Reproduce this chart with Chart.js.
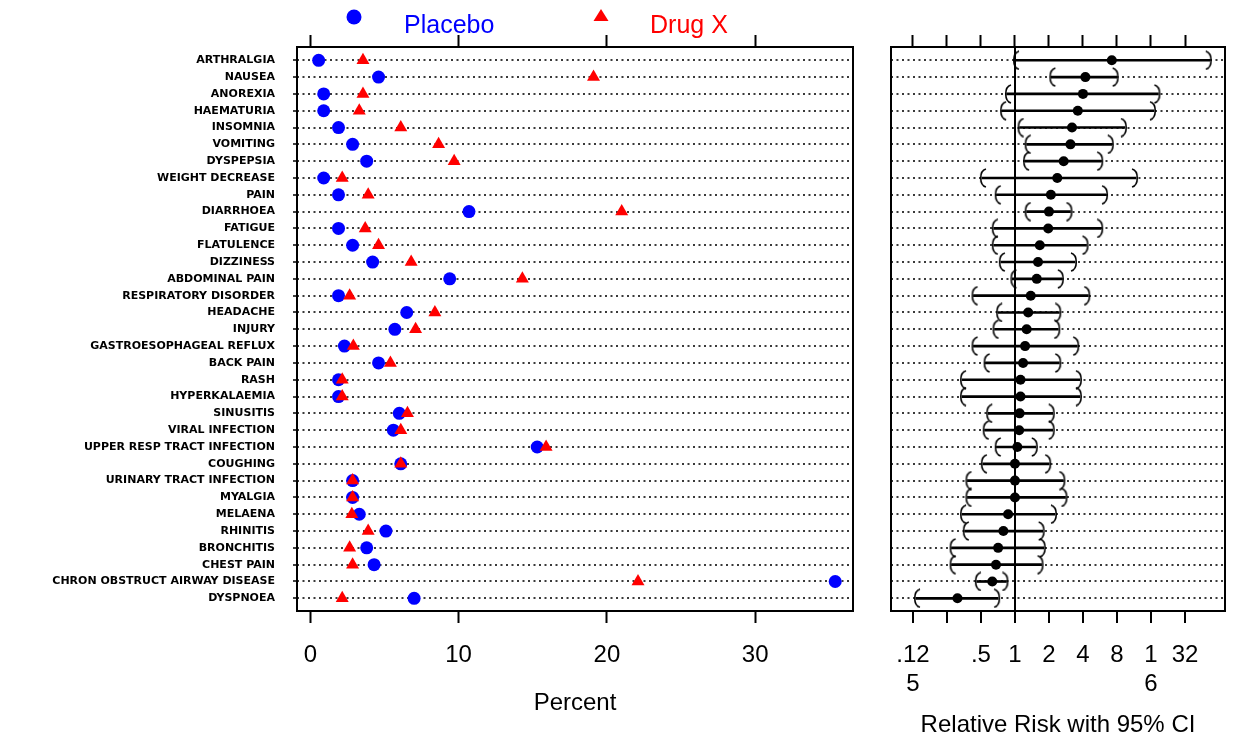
<!DOCTYPE html>
<html>
<head>
<meta charset="utf-8">
<script src="https://cdn.jsdelivr.net/npm/chart.js@4.4.1/dist/chart.umd.min.js"></script>
<style>
body{margin:0;background:#fff;}
#left{position:absolute;left:0;top:0;}
#right{position:absolute;left:870px;top:0;}
</style>
</head>
<body>
<canvas id="left" width="870" height="742"></canvas>
<canvas id="right" width="365" height="742"></canvas>
<script>
// adverse events, top to bottom
const events = ['ARTHRALGIA','NAUSEA','ANOREXIA','HAEMATURIA','INSOMNIA','VOMITING','DYSPEPSIA','WEIGHT DECREASE','PAIN','DIARRHOEA','FATIGUE','FLATULENCE','DIZZINESS','ABDOMINAL PAIN','RESPIRATORY DISORDER','HEADACHE','INJURY','GASTROESOPHAGEAL REFLUX','BACK PAIN','RASH','HYPERKALAEMIA','SINUSITIS','VIRAL INFECTION','UPPER RESP TRACT INFECTION','COUGHING','URINARY TRACT INFECTION','MYALGIA','MELAENA','RHINITIS','BRONCHITIS','CHEST PAIN','CHRON OBSTRUCT AIRWAY DISEASE','DYSPNOEA'];

// percent of patients
const placebo = [0.56,4.6,0.9,0.9,1.9,2.85,3.8,0.9,1.9,10.7,1.9,2.85,4.2,9.4,1.9,6.5,5.7,2.3,4.6,1.9,1.9,6.0,5.6,15.3,6.1,2.85,2.85,3.3,5.1,3.8,4.3,35.4,7.0];
const drugX = [3.55,19.1,3.55,3.3,6.1,8.65,9.7,2.15,3.9,21.0,3.7,4.6,6.8,14.3,2.65,8.4,7.1,2.9,5.4,2.15,2.15,6.55,6.1,15.9,6.1,2.85,2.85,2.8,3.9,2.65,2.85,22.1,2.15];

// relative risk with 95% CI
const rr = [7.2,4.2,4.0,3.6,3.2,3.1,2.7,2.37,2.08,2.0,1.97,1.66,1.6,1.56,1.38,1.31,1.27,1.23,1.18,1.12,1.12,1.1,1.09,1.05,1.0,1.0,1.0,0.87,0.79,0.71,0.68,0.63,0.31];
const rrLow = [1.0,2.1,0.85,0.77,1.1,1.27,1.23,0.51,0.69,1.27,0.65,0.65,0.75,0.95,0.43,0.71,0.66,0.43,0.55,0.34,0.34,0.58,0.54,0.69,0.52,0.38,0.38,0.34,0.36,0.275,0.275,0.46,0.133];
const rrHigh = [53,7.95,18.6,17,9.4,7.2,5.8,11.8,6.4,3.1,5.8,4.3,3.4,2.6,4.46,2.47,2.42,3.56,2.47,3.76,3.76,2.16,2.16,1.53,2.01,2.68,2.8,2.26,1.76,1.8,1.72,0.84,0.71];

const seriesNames = ['Placebo','Drug X'];
const seriesColors = ['#0000ff','#ff0000'];
const pctTicks = [0,10,20,30];
const rrTicks = [0.125,0.25,0.5,1,2,4,8,16,32];
const rrTickLabels = [['.12','5'],'','.5','1','2','4','8',['1','6'],'32'];

Chart.defaults.font.family = '"Liberation Sans", Arial, sans-serif';
Chart.defaults.color = '#000';

const rowTicks = (s) => { s.ticks = events.map((e, i) => ({value: i})); };

const framePlugin = {
  id: 'frame',
  afterDatasetsDraw(chart) {
    const {ctx, chartArea: a} = chart;
    ctx.save();
    ctx.strokeStyle = '#000';
    ctx.lineWidth = 2;
    ctx.strokeRect(a.left, a.top, a.right - a.left, a.bottom - a.top);
    ctx.restore();
  }
};

const legendPlugin = {
  id: 'topLegend',
  afterDraw(chart) {
    const {ctx, chartArea: a} = chart;
    ctx.save();
    ctx.font = '25px "Liberation Sans", Arial, sans-serif';
    ctx.textBaseline = 'middle';
    // placebo
    ctx.fillStyle = seriesColors[0];
    ctx.beginPath();
    ctx.arc(a.left + 57, 17, 7.5, 0, Math.PI * 2);
    ctx.fill();
    ctx.fillText(seriesNames[0], a.left + 107, 26);
    // drug x
    ctx.fillStyle = seriesColors[1];
    const tx = a.left + 304;
    ctx.beginPath();
    ctx.moveTo(tx, 9);
    ctx.lineTo(tx + 7.5, 21);
    ctx.lineTo(tx - 7.5, 21);
    ctx.closePath();
    ctx.fill();
    ctx.fillText(seriesNames[1], a.left + 353, 26);
    ctx.restore();
  }
};

const dotted = {display: false, dash: [2, 3.5]};
const dotColor = '#3a3a3a';

// left panel: percent dot plot
new Chart(document.getElementById('left'), {
  type: 'scatter',
  data: {
    datasets: [
      {
        label: seriesNames[0],
        data: placebo.map((v, i) => ({x: v, y: i})),
        pointStyle: 'circle',
        pointRadius: 6.5,
        backgroundColor: seriesColors[0],
        borderWidth: 0,
        order: 1
      },
      {
        label: seriesNames[1],
        data: drugX.map((v, i) => ({x: v, y: i})),
        pointStyle: 'triangle',
        pointRadius: 7.5,
        backgroundColor: seriesColors[1],
        borderWidth: 0,
        order: 0
      }
    ]
  },
  options: {
    responsive: false,
    animation: false,
    events: [],
    layout: {padding: {left: 0, right: 17, top: 0, bottom: 0}},
    plugins: {legend: {display: false}, tooltip: {enabled: false}},
    scales: {
      x: {
        type: 'linear', position: 'bottom', min: -0.9, max: 36.6,
        afterBuildTicks: (s) => { s.ticks = pctTicks.map(v => ({value: v})); },
        afterFit: (s) => { s.height = 131; },
        grid: {drawOnChartArea: false, drawTicks: true, tickLength: 12, color: '#000', tickColor: '#000', tickWidth: 2},
        border: {display: false},
        ticks: {font: {size: 24}, padding: 18, maxRotation: 0, autoSkip: false},
        title: {display: true, text: 'Percent', font: {size: 24}, padding: {top: 0, bottom: 24.6}}
      },
      xTop: {
        axis: 'x', type: 'linear', position: 'top', min: -0.9, max: 36.6,
        afterBuildTicks: (s) => { s.ticks = pctTicks.map(v => ({value: v})); },
        afterFit: (s) => { s.height = 47; },
        grid: {drawOnChartArea: false, drawTicks: true, tickLength: 12, color: '#000', tickColor: '#000', tickWidth: 2},
        border: {display: false},
        ticks: {display: false}
      },
      y: {
        type: 'linear', reverse: true, min: -0.79, max: 32.755, offset: false,
        afterBuildTicks: rowTicks,
        afterFit: (s) => { s.width = 297; },
        grid: {color: dotColor, lineWidth: 2, offset: false, drawTicks: true, tickLength: 4, tickColor: '#000', tickWidth: 1.5},
        border: dotted,
        ticks: {
          autoSkip: false,
          padding: 18,
          font: {family: '"DejaVu Sans", sans-serif', size: 11, weight: 'bold'},
          callback: (v) => events[v]
        }
      }
    }
  },
  plugins: [framePlugin, legendPlugin]
});

// bracket shapes for CI ends
function makeBracket(open) {
  const c = document.createElement('canvas');
  c.width = 12; c.height = 20;
  const g = c.getContext('2d');
  g.strokeStyle = '#000';
  g.lineWidth = 1.6;
  g.beginPath();
  if (open) { g.moveTo(10, 1); g.bezierCurveTo(3, 3, 3, 17, 10, 19); }
  else { g.moveTo(2, 1); g.bezierCurveTo(9, 3, 9, 17, 2, 19); }
  g.stroke();
  return c;
}

// right panel: relative risk forest plot
new Chart(document.getElementById('right'), {
  type: 'scatter',
  data: {
    datasets: [
      {
        type: 'bar',
        indexAxis: 'y',
        data: events.map((e, i) => ({y: i, x: [rrLow[i], rrHigh[i]]})),
        backgroundColor: '#000',
        borderWidth: 0,
        barThickness: 2,
        order: 2
      },
      {
        data: rrLow.map((v, i) => ({x: v, y: i})),
        pointStyle: makeBracket(true),
        order: 1
      },
      {
        data: rrHigh.map((v, i) => ({x: v, y: i})),
        pointStyle: makeBracket(false),
        order: 1
      },
      {
        data: rr.map((v, i) => ({x: v, y: i})),
        pointStyle: 'circle',
        pointRadius: 5,
        backgroundColor: '#000',
        borderWidth: 0,
        order: 0
      }
    ]
  },
  options: {
    responsive: false,
    animation: false,
    events: [],
    layout: {padding: {left: 21, right: 10, top: 0, bottom: 0}},
    plugins: {legend: {display: false}, tooltip: {enabled: false}},
    scales: {
      x: {
        type: 'logarithmic', position: 'bottom', min: 0.08, max: 72.3, offset: false,
        afterBuildTicks: (s) => { s.ticks = rrTicks.map(v => ({value: v})); },
        afterFit: (s) => { s.height = 131; },
        grid: {
          drawOnChartArea: true, drawTicks: true, tickLength: 12, lineWidth: 2, offset: false,
          color: (c) => (c.tick && c.tick.value === 1 ? '#000' : 'rgba(0,0,0,0)'),
          tickColor: '#000', tickWidth: 2
        },
        border: {display: false},
        ticks: {font: {size: 24}, padding: 18, maxRotation: 0, autoSkip: false,
          callback: (v, i) => rrTickLabels[i]},
        title: {display: true, text: 'Relative Risk with 95% CI', font: {size: 24}, padding: {top: 0, bottom: 2.6}}
      },
      xTop: {
        axis: 'x', type: 'logarithmic', position: 'top', min: 0.08, max: 72.3, offset: false,
        afterBuildTicks: (s) => { s.ticks = rrTicks.map(v => ({value: v})); },
        afterFit: (s) => { s.height = 47; },
        grid: {drawOnChartArea: false, drawTicks: true, tickLength: 12, color: '#000', tickColor: '#000', tickWidth: 2, offset: false},
        border: {display: false},
        ticks: {display: false}
      },
      y: {
        type: 'linear', reverse: true, min: -0.79, max: 32.755, offset: false,
        afterBuildTicks: rowTicks,
        afterFit: (s) => { s.width = 0; },
        grid: {color: dotColor, lineWidth: 2, drawTicks: false, offset: false},
        border: dotted,
        ticks: {display: false}
      }
    }
  },
  plugins: [framePlugin]
});
</script>
</body>
</html>
